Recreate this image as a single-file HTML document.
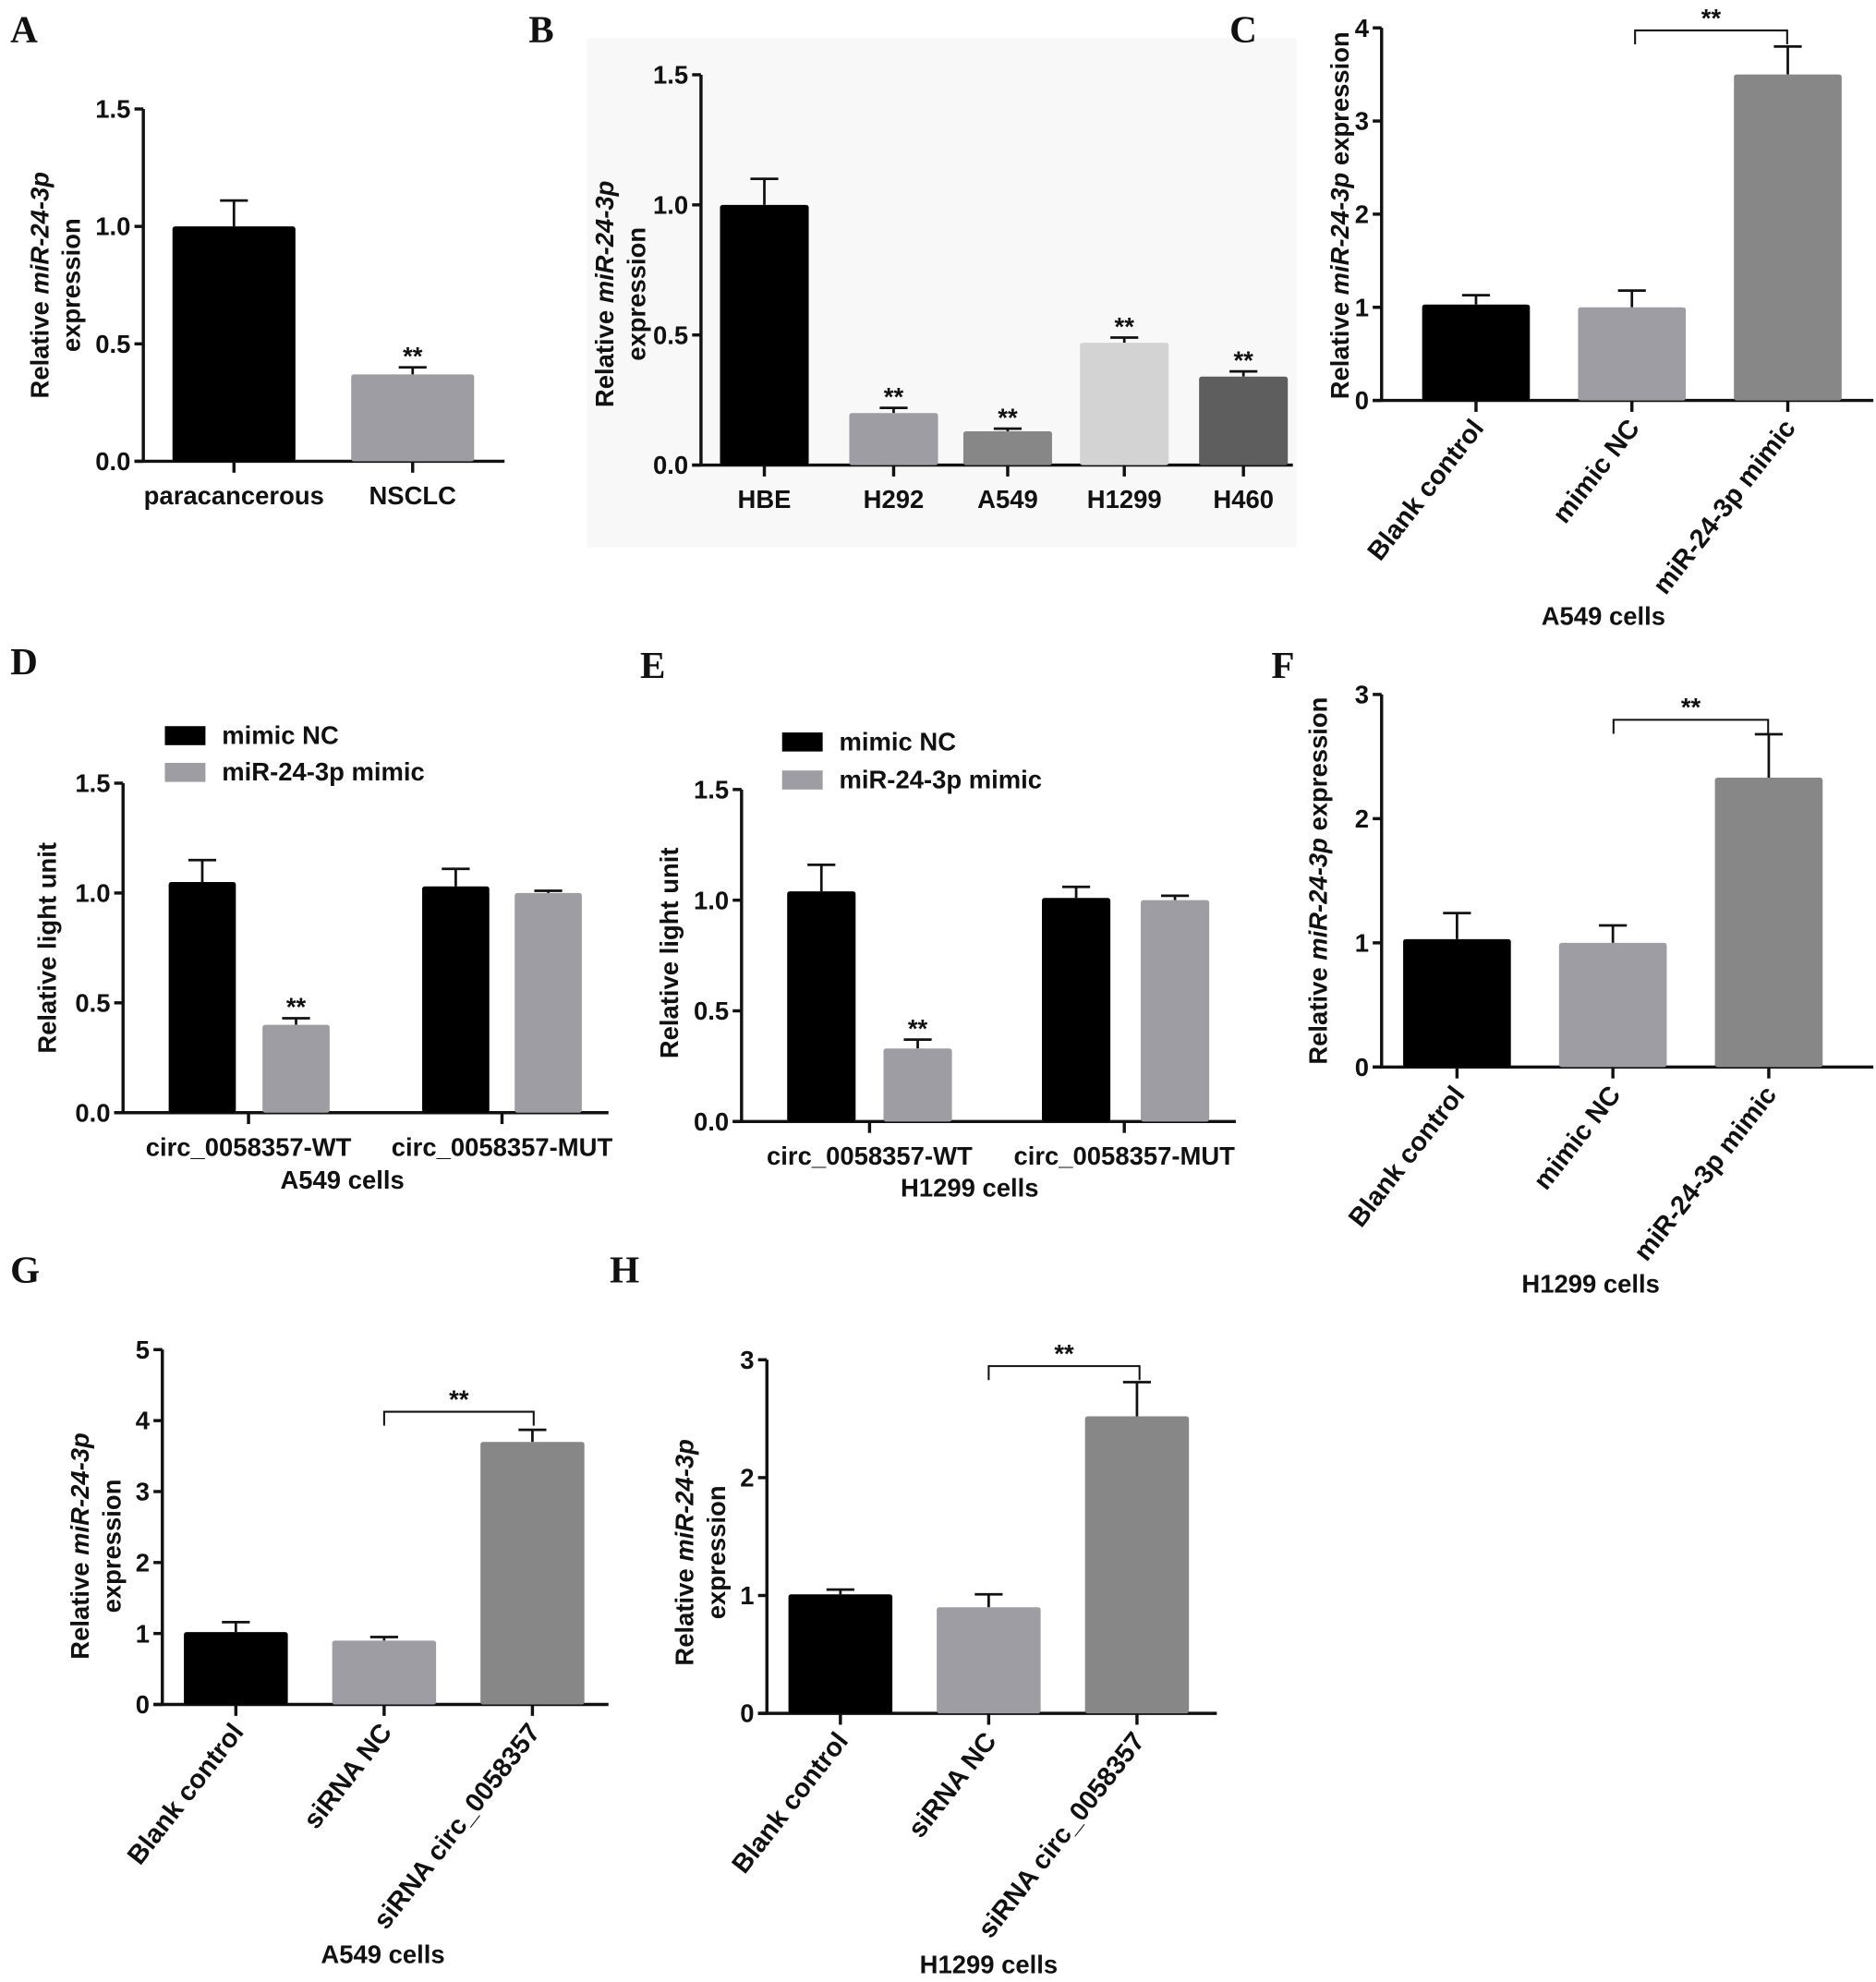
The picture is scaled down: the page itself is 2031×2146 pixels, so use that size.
<!DOCTYPE html>
<html><head><meta charset="utf-8"><style>
html,body{margin:0;padding:0;background:#fff}
svg{display:block}
text{font-family:"Liberation Sans",Arial,sans-serif;font-weight:bold;fill:#111}
.pl{font-family:"Liberation Serif",serif;font-size:30px}
</style></head><body>
<svg id="fig" width="2031" height="2146" viewBox="0 0 1480 1564" xmlns="http://www.w3.org/2000/svg">
<rect x="463" y="30" width="560" height="402" fill="#f8f8f8"/>
</svg>
<script>
// ---- data ----
const catsA=["paracancerous","NSCLC"]; const valsA=[1.0,0.37]; const errA=[0.11,0.03]; const ticksA=["0.0","0.5","1.0","1.5"];
const catsB=["HBE","H292","A549","H1299","H460"]; const valsB=[1.0,0.20,0.13,0.47,0.34]; const errB=[0.10,0.02,0.01,0.02,0.02]; const ticksB=["0.0","0.5","1.0","1.5"];
const catsC=["Blank control","mimic NC","miR-24-3p mimic"]; const valsC=[1.03,1.0,3.5]; const errC=[0.10,0.18,0.30]; const ticksC=["0","1","2","3","4"];
const catsD=["circ_0058357-WT","circ_0058357-MUT"]; const ncD=[1.05,1.03]; const miD=[0.40,1.0]; const ncErrD=[0.10,0.08]; const miErrD=[0.03,0.01]; const ticksD=["0.0","0.5","1.0","1.5"];
const catsE=["circ_0058357-WT","circ_0058357-MUT"]; const ncE=[1.04,1.01]; const miE=[0.33,1.0]; const ncErrE=[0.12,0.05]; const miErrE=[0.04,0.02]; const ticksE=["0.0","0.5","1.0","1.5"];
const catsF=["Blank control","mimic NC","miR-24-3p mimic"]; const valsF=[1.03,1.0,2.33]; const errF=[0.21,0.14,0.35]; const ticksF=["0","1","2","3"];
const catsG=["Blank control","siRNA NC","siRNA circ_0058357"]; const valsG=[1.02,0.9,3.7]; const errG=[0.14,0.05,0.17]; const ticksG=["0","1","2","3","4","5"];
const catsH=["Blank control","siRNA NC","siRNA circ_0058357"]; const valsH=[1.01,0.9,2.52]; const errH=[0.04,0.11,0.29]; const ticksH=["0","1","2","3"];

const svg=document.getElementById('fig');
const NS="http://www.w3.org/2000/svg";
const FS=20;
function el(tag,attrs,parent){const e=document.createElementNS(NS,tag);for(const k in attrs)e.setAttribute(k,attrs[k]);(parent||svg).appendChild(e);return e;}
function txt(x,y,s,size,anchor,parent,extra){const t=el('text',Object.assign({x:x,y:y,'font-size':size,'text-anchor':anchor||'middle'},extra||{}),parent);t.textContent=s;return t;}

function yTitle(g,x,cy,lines){
  const t=el('text',{transform:`translate(${x},${cy}) rotate(-90)`,'font-size':FS,'text-anchor':'middle'},g);
  
  
  lines.forEach((ln,i)=>{
    const first=el('tspan',{x:0,dy:i===0?0:25},t);
    first.textContent='';
    ln.forEach((p,j)=>{const sp=j===0?first:el('tspan',{},t); sp.textContent=p[0]; if(p[1]) sp.setAttribute('font-style','italic');});
  });
}

function panel(o){
  const g=el('g',{});
  
  
  const lab=txt(o.lx,o.ly,o.letter,30,'start',g,{class:'pl'});
  
  
  const ticks=o.ticks; const tmax=parseFloat(ticks[ticks.length-1]);
  const Y=v=>o.y0-(v/tmax)*(o.y0-o.yTop);
  const ax=el('line',{x1:o.ax,y1:o.yTop,x2:o.ax,y2:o.y0+1,stroke:'#111','stroke-width':2.5},g);
  
  
  const xa=el('line',{x1:o.ax-7,y1:o.y0,x2:o.xEnd,y2:o.y0,stroke:'#111','stroke-width':2.5},g);
  
  
  ticks.forEach(t=>{const v=parseFloat(t);const yy=Y(v);
    el('line',{x1:o.ax-7,y1:yy,x2:o.ax,y2:yy,stroke:'#111','stroke-width':2.5},g);
    const tl=txt(o.ax-10,yy+7,t,FS,'end',g);
    
    
  });
  o.bars.forEach((b,i)=>{
    const yv=Y(b.v), ye=Y(b.v+b.e), cx=b.x+b.w/2;
    el('line',{x1:cx,y1:yv,x2:cx,y2:ye,stroke:'#111','stroke-width':2},g);
    el('line',{x1:cx-11,y1:ye,x2:cx+11,y2:ye,stroke:'#111','stroke-width':2},g);
    const r=el('rect',{x:b.x,y:yv,width:b.w,height:o.y0-yv,fill:b.c,rx:2},g);
    
    
    if(b.star){const s=txt(cx,ye-2,'**',FS,'middle',g);}
  });
  o.xt.forEach(xt=>{
    el('line',{x1:xt.x,y1:o.y0,x2:xt.x,y2:o.y0+9,stroke:'#111','stroke-width':2.5},g);
    let t;
    if(o.rot){t=txt(0,0,xt.s,21,'end',g,{transform:`translate(${xt.x+7},${o.y0+22}) rotate(-52)`});}
    else t=txt(xt.x,o.y0+34,xt.s,FS,'middle',g);
    
    
  });
  if(o.bracket){const b=o.bracket;
    el('path',{d:`M${b.x1},${b.y+11} V${b.y} H${b.x2} V${b.y+11}`,fill:'none',stroke:'#111','stroke-width':1.5},g);
    const s=txt((b.x1+b.x2)/2,b.y-3,'**',FS,'middle',g);
    
    
  }
  if(o.xtitle){const t=txt(o.xtitle.x,o.xtitle.y,o.xtitle.s,FS,'middle',g);}
  yTitle(g,o.ytx,o.yty,o.ytl);
  if(o.legend){o.legend.forEach((l,i)=>{
    const r=el('rect',{x:l.x,y:l.y,width:32,height:15,fill:l.c},g);
    
    
    const t=txt(l.x+45,l.y+14,l.s,FS,'start',g);
    
    
  });}
}
const mirT2=[[["Relative ",0],["miR-24-3p",1]],[["expression",0]]];
const mirT1=[[["Relative ",0],["miR-24-3p",1],[" expression",0]]];
function simple(xs,w,cats,vals,errs,cols,stars){return cats.map((c,i)=>({id:c.replace(/\s+/g,'-').toLowerCase(),x:xs[i],w:w,v:vals[i],e:errs[i],c:cols[i],star:stars&&stars[i]}));}
function xts(xs,w,cats){return cats.map((c,i)=>({x:xs[i]+w/2,s:c}));}

// A
let xs=[136,277];
panel({name:'panel-a',letter:'A',lx:8,ly:33,ax:113,yTop:86,y0:364,xEnd:398,ticks:ticksA,
 bars:simple(xs,97,catsA,valsA,errA,['#000','#9d9da3'],[0,1]),xt:xts(xs,97,catsA),ytx:38,yty:225,ytl:mirT2});
// B
xs=[568,670,760,852,946];
panel({name:'panel-b',letter:'B',lx:417,ly:33,ax:553,yTop:59,y0:367,xEnd:1020,ticks:ticksB,
 bars:simple(xs,70,catsB,valsB,errB,['#000','#9d9da3','#878787','#d3d3d3','#5e5e5e'],[0,1,1,1,1]),xt:xts(xs,70,catsB),ytx:484,yty:232,ytl:mirT2});
// C
xs=[1122,1245,1368];
panel({name:'panel-c',letter:'C',lx:970,ly:33,ax:1090,yTop:22,y0:316,xEnd:1478,ticks:ticksC,rot:true,
 bars:simple(xs,85,catsC,valsC,errC,['#000','#9d9da3','#878787']),xt:xts(xs,85,catsC),
 bracket:{x1:1290,x2:1410,y:24},xtitle:{x:1265,y:493,s:'A549 cells'},ytx:1064,yty:170,ytl:mirT1});
// D
function grouped(xsNc,xsMi,w,cats,nc,mi,ncE,miE,stars){const b=[];cats.forEach((c,i)=>{b.push({id:'mimic-nc-'+i,x:xsNc[i],w:w,v:nc[i],e:ncE[i],c:'#000'});b.push({id:'mir-mimic-'+i,x:xsMi[i],w:w,v:mi[i],e:miE[i],c:'#9d9da3',star:stars[i]});});return b;}
panel({name:'panel-d',letter:'D',lx:8,ly:532,ax:97,yTop:618,y0:878,xEnd:480,ticks:ticksD,
 bars:grouped([133,333],[207,406],53,catsD,ncD,miD,ncErrD,miErrD,[1,0]),xt:[{x:196,s:catsD[0]},{x:396,s:catsD[1]}],
 xtitle:{x:270,y:938,s:'A549 cells'},ytx:44,yty:748,ytl:[[["Relative light unit",0]]],
 legend:[{x:130,y:573,c:'#000',s:'mimic NC'},{x:130,y:602,c:'#9d9da3',s:'miR-24-3p mimic'}]});
// E
panel({name:'panel-e',letter:'E',lx:505,ly:535,ax:585,yTop:623,y0:885,xEnd:975,ticks:ticksE,
 bars:grouped([621,822],[697,900],54,catsE,ncE,miE,ncErrE,miErrE,[1,0]),xt:[{x:686,s:catsE[0]},{x:887,s:catsE[1]}],
 xtitle:{x:765,y:944,s:'H1299 cells'},ytx:535,yty:752,ytl:[[["Relative light unit",0]]],
 legend:[{x:617,y:578,c:'#000',s:'mimic NC'},{x:617,y:608,c:'#9d9da3',s:'miR-24-3p mimic'}]});
// F
xs=[1107,1230,1353];
panel({name:'panel-f',letter:'F',lx:1003,ly:535,ax:1090,yTop:548,y0:842,xEnd:1478,ticks:ticksF,rot:true,
 bars:simple(xs,85,catsF,valsF,errF,['#000','#9d9da3','#878787']),xt:xts(xs,85,catsF),
 bracket:{x1:1273,x2:1395,y:568},xtitle:{x:1255,y:1020,s:'H1299 cells'},ytx:1047,yty:695,ytl:mirT1});
// G
xs=[145,262,379];
panel({name:'panel-g',letter:'G',lx:8,ly:1012,ax:128,yTop:1065,y0:1345,xEnd:480,ticks:ticksG,rot:true,
 bars:simple(xs,82,catsG,valsG,errG,['#000','#9d9da3','#878787']),xt:xts(xs,82,catsG),
 bracket:{x1:303,x2:421,y:1114},xtitle:{x:302,y:1549,s:'A549 cells'},ytx:70,yty:1220,ytl:mirT2});
// H
xs=[622,739,856];
panel({name:'panel-h',letter:'H',lx:481,ly:1012,ax:605,yTop:1073,y0:1352,xEnd:960,ticks:ticksH,rot:true,
 bars:simple(xs,82,catsH,valsH,errH,['#000','#9d9da3','#878787']),xt:xts(xs,82,catsH),
 bracket:{x1:780,x2:899,y:1078},xtitle:{x:780,y:1557,s:'H1299 cells'},ytx:547,yty:1225,ytl:mirT2});
</script>
</body></html>
